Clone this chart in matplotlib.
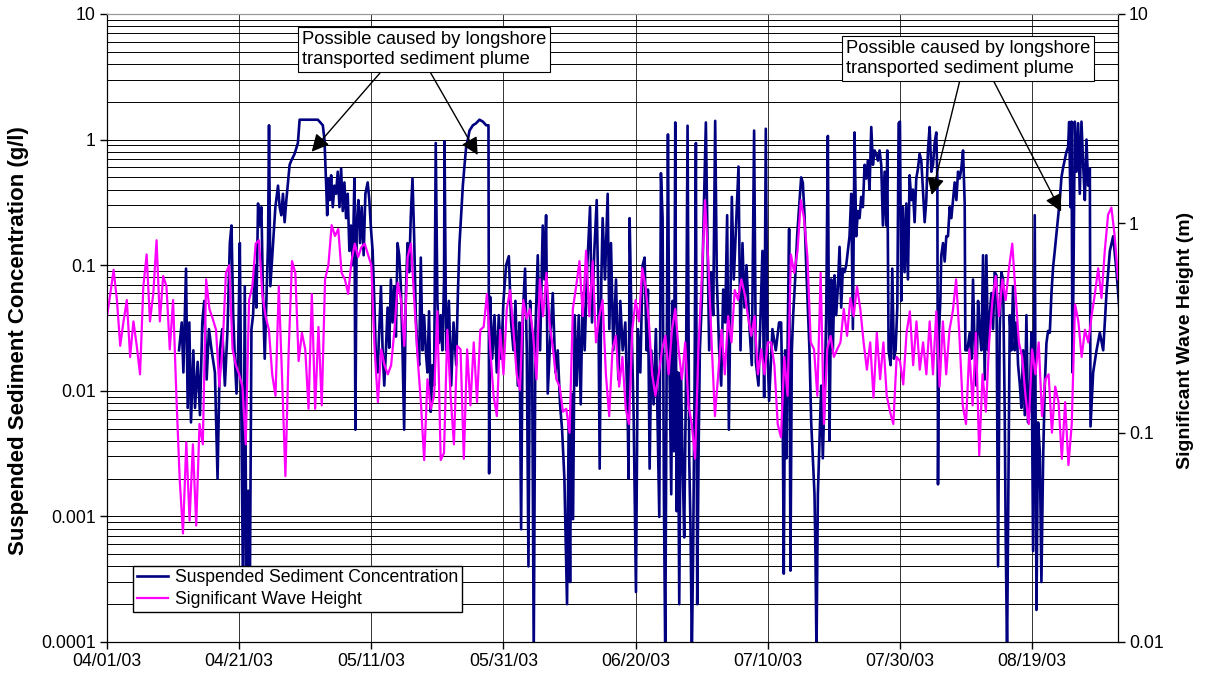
import matplotlib
matplotlib.use("Agg")
import matplotlib.pyplot as plt
import matplotlib.dates as mdates
from matplotlib.ticker import NullFormatter
import numpy as np
import pandas as pd

plt.rcParams["font.family"] = ["Liberation Sans", "DejaVu Sans"]

start = pd.Timestamp("2003-04-01")
end = pd.Timestamp("2003-09-01")

# significant wave height (m), one reading every 12 h from 04/01/03
wave_m = [
    0.36, 0.46, 0.6, 0.43, 0.26, 0.34, 0.43, 0.23, 0.34, 0.26,
    0.19, 0.5, 0.71, 0.34, 0.46, 0.83, 0.34, 0.56, 0.5, 0.25,
    0.43, 0.15, 0.06, 0.033, 0.09, 0.038, 0.088, 0.036, 0.11, 0.088,
    0.54, 0.39, 0.35, 0.31, 0.166, 0.26, 0.58, 0.63, 0.25, 0.21,
    0.19, 0.166, 0.088, 0.43, 0.5, 0.8, 0.83, 0.46, 0.36, 0.31,
    0.19, 0.15, 0.5, 0.18, 0.062, 0.25, 0.66, 0.58, 0.22, 0.3,
    0.25, 0.13, 0.46, 0.13, 0.32, 0.135, 0.54, 0.63, 0.98, 0.87,
    0.94, 0.58, 0.54, 0.46, 0.66, 0.8, 0.69, 0.77, 0.8, 0.71,
    0.63, 0.25, 0.14, 0.25, 0.21, 0.19, 0.21, 0.31, 0.52, 0.43,
    0.26, 0.69, 0.8, 0.43, 0.23, 0.14, 0.074, 0.18, 0.13, 0.15,
    0.38, 0.074, 0.08, 0.31, 0.15, 0.088, 0.26, 0.25, 0.075, 0.25,
    0.135, 0.27, 0.14, 0.31, 0.32, 0.46, 0.25, 0.15, 0.12, 0.31,
    0.19, 0.39, 0.48, 0.31, 0.19, 0.16, 0.43, 0.35, 0.39, 0.29,
    0.18, 0.54, 0.36, 0.58, 0.33, 0.25, 0.18, 0.166, 0.126, 0.13,
    0.10, 0.39, 0.50, 0.66, 0.36, 0.74, 0.36, 0.66, 0.27, 0.36,
    0.43, 0.19, 0.12, 0.25, 0.29, 0.166, 0.23, 0.13, 0.11, 0.31,
    0.43, 0.34, 0.61, 0.5, 0.34, 0.19, 0.15, 0.19, 0.25, 0.29,
    0.19, 0.31, 0.39, 0.25, 0.18, 0.27, 0.135, 0.11, 0.075, 0.25,
    0.54, 1.29, 0.66, 0.27, 0.12, 0.19, 0.31, 0.19, 0.36, 0.27,
    0.48, 0.43, 0.54, 0.46, 0.36, 0.29, 0.36, 0.19, 0.25, 0.19,
    0.27, 0.27, 0.21, 0.11, 0.095, 0.23, 0.15, 0.71, 0.58, 0.74,
    1.29, 1.05, 0.69, 0.27, 0.25, 0.15, 0.58, 0.11, 0.25, 0.29,
    0.23, 0.25, 0.27, 0.39, 0.29, 0.44, 0.36, 0.5, 0.39, 0.27,
    0.2, 0.27, 0.147, 0.3, 0.18, 0.27, 0.15, 0.126, 0.11, 0.23,
    0.22, 0.17, 0.3, 0.38, 0.21, 0.34, 0.2, 0.27, 0.19, 0.34,
    0.19, 0.38, 0.166, 0.34, 0.19, 0.31, 0.38, 0.54, 0.29, 0.135,
    0.11, 0.25, 0.135, 0.3, 0.078, 0.19, 0.126, 0.27, 0.43, 0.56,
    0.36, 0.54, 0.43, 0.61, 0.8, 0.46, 0.27, 0.23, 0.15, 0.11,
    0.25, 0.19, 0.27, 0.12, 0.18, 0.19, 0.10, 0.166, 0.14, 0.075,
    0.14, 0.07, 0.11, 0.41, 0.34, 0.23, 0.31, 0.27, 0.36, 0.46,
    0.61, 0.44, 0.74, 1.1, 1.19, 0.87, 0.54,
]

# suspended sediment concentration: days since 04/01/03 and g/l
ssc_day = [
    10.9, 11.31, 11.56, 11.96, 12.21, 12.46, 12.71, 13.07, 13.32, 13.72,
    14.07, 14.42, 14.72, 15.08, 15.43, 15.83, 16.33, 16.73, 17.09, 17.44,
    17.84, 18.24, 18.59, 18.84, 19.10, 19.35, 19.60, 19.85, 20.10, 20.35,
    20.60, 20.85, 21.11, 21.36, 21.61, 21.86, 22.11, 22.36, 22.61, 22.86,
    23.12, 23.37, 23.62, 23.87, 24.12, 24.37, 24.52, 24.72, 25.13, 25.48,
    25.88, 26.13, 26.38, 26.63, 26.88, 27.14, 27.39, 27.64, 27.89, 28.39,
    28.89, 29.15, 29.90, 30.90, 31.91, 32.66, 32.91, 33.17, 33.32, 33.52,
    33.72, 33.92, 34.17, 34.42, 34.67, 34.92, 35.18, 35.43, 35.68, 35.93,
    36.18, 36.43, 36.68, 36.93, 37.19, 37.44, 37.59, 37.79, 38.04, 38.29,
    38.54, 38.84, 39.10, 39.45, 39.70, 39.95, 40.20, 40.45, 40.70, 40.95,
    41.21, 41.46, 41.71, 41.96, 42.21, 42.46, 42.71, 42.96, 43.22, 43.47,
    43.72, 43.97, 44.22, 44.47, 44.72, 44.97, 45.23, 45.48, 45.73, 45.98,
    46.23, 46.48, 46.73, 46.98, 47.24, 47.49, 47.74, 47.99, 48.24, 48.49,
    48.74, 48.99, 49.25, 49.50, 49.75, 50.00, 50.25, 50.50, 50.75, 51.01,
    51.08, 51.33, 51.74, 52.09, 52.44, 52.85, 53.10, 53.35, 53.60, 53.85,
    54.11, 54.36, 54.61, 54.86, 55.37, 55.87, 56.37, 56.88, 57.38, 57.73,
    57.83, 57.98, 58.29, 58.64, 58.99, 59.29, 59.65, 60.00, 60.40, 60.81,
    61.16, 61.51, 61.81, 62.17, 62.42, 62.67, 62.92, 63.27, 63.53, 63.78,
    64.03, 64.33, 64.58, 64.84, 65.19, 65.54, 65.94, 66.20, 66.45, 66.70,
    67.05, 67.46, 67.86, 68.21, 68.56, 68.87, 69.22, 69.62, 69.87, 70.08,
    70.28, 70.53, 70.78, 71.08, 71.39, 71.69, 71.99, 72.29, 72.64, 73.10,
    73.40, 73.75, 74.11, 74.36, 74.56, 74.81, 75.01, 75.36, 75.77, 76.02,
    76.27, 76.62, 77.03, 77.38, 77.68, 78.04, 78.44, 78.79, 78.94, 79.09,
    79.40, 79.70, 80.05, 80.35, 80.71, 81.06, 81.36, 81.66, 81.86, 82.12,
    82.37, 82.72, 83.07, 83.32, 83.58, 83.83, 84.08, 84.28, 84.48, 84.69,
    84.89, 85.09, 85.39, 85.59, 85.79, 86.00, 86.20, 86.40, 86.60, 86.85,
    87.10, 87.35, 87.61, 87.86, 88.11, 88.31, 88.51, 88.71, 88.92, 89.12,
    89.32, 89.52, 89.72, 90.02, 90.33, 90.63, 90.88, 91.13, 91.44, 91.74,
    92.04, 92.29, 92.64, 92.95, 93.25, 93.55, 93.85, 94.11, 94.36, 94.56,
    94.86, 95.26, 95.57, 95.87, 96.17, 96.47, 96.78, 97.18, 97.58, 97.93,
    98.19, 98.59, 98.94, 99.19, 99.45, 99.70, 99.95, 100.20, 100.70, 101.21,
    101.71,
    102.02, 102.27, 102.42, 102.63, 102.83, 103.03, 103.23, 103.43, 103.64, 103.84,
    104.14, 104.44, 104.75, 105.05, 105.30, 105.56, 105.81, 106.06, 106.31, 106.57,
    106.82, 107.07, 107.22, 107.37, 107.58, 107.83, 108.08, 108.33, 108.59, 108.84,
    109.09, 109.34, 109.60, 109.85, 110.10, 110.35, 110.61, 110.86, 111.11, 111.36,
    111.62, 111.87, 112.12, 112.37, 112.63, 112.88, 113.13, 113.38, 113.64, 113.89,
    114.14, 114.39, 114.65, 114.90, 115.15, 115.40, 115.66, 115.91, 116.16, 116.41,
    116.67, 116.92, 117.17, 117.42, 117.68, 117.93, 118.08, 118.28, 118.59, 118.84,
    119.09, 119.34, 119.60, 119.80, 120.00, 120.20, 120.45, 120.71, 120.96, 121.21,
    121.46, 121.72, 121.97, 122.22, 122.47, 122.73, 122.98, 123.23, 123.48, 123.74,
    123.99, 124.24, 124.49, 124.75, 125.00, 125.25, 125.50, 125.66, 125.76, 125.91,
    126.11, 126.26, 126.52, 126.77, 127.02, 127.27, 127.53, 127.78, 128.03, 128.28,
    128.54, 128.79, 129.04, 129.29, 129.55, 129.80, 129.90, 130.20, 130.56, 130.81,
    131.06, 131.31, 131.57, 131.82, 132.07, 132.32, 132.58, 132.83, 133.08, 133.33,
    133.59, 133.84, 134.09, 134.34, 134.60, 134.85, 135.10, 135.35, 135.61, 135.86,
    136.01, 136.21, 136.36, 136.62, 136.87, 137.12, 137.37, 137.63, 137.88, 138.13,
    138.38, 138.64, 138.89, 139.14, 139.39, 139.65, 139.90, 140.15, 140.40, 140.66,
    140.91, 141.16, 141.41, 141.67, 141.92, 142.17, 142.42, 142.68, 142.93, 143.18,
    143.43, 143.69, 143.94, 144.19, 144.44, 144.70, 144.95, 145.20, 145.45, 145.61,
    145.81, 145.96, 146.11, 146.26, 146.46, 146.72, 146.97, 147.22, 147.47, 147.73,
    147.98, 148.23, 148.48, 148.74, 148.84, 149.24, 149.75, 150.25, 150.76, 151.26,
    151.77, 152.27, 152.78, 153.28,
]
ssc_gl = [
    0.021, 0.035, 0.014, 0.094, 0.0073, 0.035, 0.0056, 0.021, 0.0073, 0.017,
    0.0064, 0.035, 0.052, 0.0123, 0.031, 0.021, 0.014, 0.002, 0.021, 0.031,
    0.011, 0.031, 0.15, 0.207, 0.04, 0.018, 0.0095, 0.021, 0.15, 0.0056,
    0.0002, 0.068, 0.0002, 0.0016, 0.0002, 0.031, 0.04, 0.1, 0.046, 0.31,
    0.207, 0.29, 0.052, 0.018, 0.052, 0.15, 1.3, 0.068, 0.15, 0.29,
    0.43, 0.29, 0.25, 0.37, 0.22, 0.33, 0.456, 0.63, 0.68, 0.77,
    0.94, 1.44, 1.44, 1.44, 1.44, 1.3, 1.0, 0.43, 0.25, 0.49,
    0.33, 0.52, 0.29, 0.43, 0.37, 0.555, 0.29, 0.59, 0.27, 0.456,
    0.237, 0.37, 0.13, 0.207, 0.1, 0.49, 0.0049, 0.207, 0.33, 0.15,
    0.29, 0.12, 0.37, 0.456, 0.33, 0.194, 0.13, 0.052, 0.018, 0.014,
    0.031, 0.068, 0.021, 0.011, 0.021, 0.046, 0.022, 0.077, 0.035, 0.068,
    0.027, 0.15, 0.12, 0.068, 0.021, 0.0049, 0.06, 0.15, 0.088, 0.25,
    0.49, 0.17, 0.04, 0.021, 0.016, 0.115, 0.021, 0.04, 0.021, 0.014,
    0.043, 0.0068, 0.016, 0.011, 0.94, 0.052, 0.024, 0.04, 0.021, 0.077,
    0.97, 0.021, 0.052, 0.011, 0.035, 0.016, 0.06, 0.15, 0.25, 0.43,
    0.63, 0.88, 1.0, 1.18, 1.3, 1.35, 1.44, 1.39, 1.3, 1.3,
    0.0022, 0.056, 0.018, 0.04, 0.014, 0.04, 0.018, 0.052, 0.1, 0.118,
    0.035, 0.021, 0.052, 0.011, 0.035, 0.00079, 0.04, 0.094, 0.021, 0.0004,
    0.052, 0.021, 0.00008, 0.031, 0.12, 0.021, 0.207, 0.077, 0.25, 0.0095,
    0.024, 0.06, 0.014, 0.021, 0.0078, 0.0049, 0.002, 0.0002, 0.0056, 0.0003,
    0.0095, 0.00095, 0.04, 0.011, 0.04, 0.0078, 0.06, 0.021, 0.088, 0.29,
    0.035, 0.13, 0.33, 0.052, 0.0024, 0.077, 0.237, 0.077, 0.37, 0.031,
    0.15, 0.021, 0.077, 0.0123, 0.052, 0.021, 0.035, 0.0064, 0.002, 0.237,
    0.031, 0.0064, 0.00025, 0.031, 0.014, 0.1, 0.115, 0.021, 0.064, 0.0024,
    0.021, 0.0078, 0.031, 0.0056, 0.00099, 0.54, 0.237, 0.0015, 0.00008, 0.014,
    1.1, 0.021, 0.0015, 0.052, 0.0033, 1.37, 0.0011, 0.014, 0.0002, 0.014,
    0.0029, 0.00068, 0.011, 1.29, 0.0029, 0.00078, 0.00008, 0.00056, 0.011, 0.94,
    0.0002, 0.0029, 0.021, 0.052, 0.29, 1.37, 0.15, 0.021, 0.088, 0.04,
    1.41, 0.077, 0.021, 0.011, 0.064, 0.035, 0.25, 0.0049, 0.06, 0.35,
    0.077, 0.25, 0.61, 0.021, 0.15, 0.046, 0.1, 0.035, 0.016, 1.18,
    0.017, 0.011, 0.046, 0.13, 0.0089, 1.22, 0.021, 0.0083, 0.031, 0.021,
    0.035,
    0.035, 0.0056, 0.00035, 0.021, 0.0029, 0.031, 0.194, 0.00037, 0.021, 0.04,
    0.077, 0.17, 0.29, 0.5, 0.456, 0.25, 0.1, 0.046, 0.021, 0.0056,
    0.0029, 0.0015, 0.00048, 0.00008, 0.0015, 0.004, 0.011, 0.0029, 0.0095, 0.04,
    1.07, 0.004, 0.077, 0.021, 0.083, 0.04, 0.068, 0.14, 0.046, 0.094,
    0.088, 0.1, 0.13, 0.17, 0.37, 0.031, 1.14, 0.17, 0.27, 0.237,
    0.35, 0.29, 0.63, 0.49, 0.68, 0.4, 1.26, 0.63, 0.82, 0.77,
    0.68, 0.82, 0.63, 0.207, 0.555, 0.207, 0.82, 0.021, 0.016, 0.094,
    0.018, 0.021, 0.046, 1.35, 1.39, 0.052, 0.29, 0.088, 0.31, 0.077,
    0.52, 0.33, 0.4, 0.22, 0.49, 0.59, 0.77, 0.68, 0.4, 0.22,
    0.33, 0.82, 1.26, 0.555, 0.63, 0.94, 1.14, 0.49, 0.0018, 0.029,
    0.052, 0.12, 0.15, 0.107, 0.17, 0.17, 0.29, 0.237, 0.33, 0.456,
    0.33, 0.555, 0.49, 0.59, 0.82, 0.31, 0.021, 0.021, 0.029, 0.018,
    0.077, 0.021, 0.011, 0.052, 0.031, 0.021, 0.12, 0.0123, 0.12, 0.021,
    0.04, 0.06, 0.031, 0.088, 0.083, 0.0004, 0.031, 0.088, 0.077, 0.0064,
    0.00064, 0.00008, 0.00078, 0.04, 0.021, 0.068, 0.021, 0.035, 0.016, 0.0115,
    0.0073, 0.021, 0.0064, 0.04, 0.0056, 0.0083, 0.029, 0.00053, 0.25, 0.00018,
    0.0056, 0.0033, 0.0003, 0.0029, 0.011, 0.024, 0.03, 0.029, 0.06, 0.097,
    0.13, 0.18, 0.25, 0.33, 0.5, 0.6, 0.69, 0.8, 0.87, 1.38,
    0.29, 1.39, 0.014, 0.077, 1.39, 0.555, 1.35, 0.37, 1.39, 0.63,
    0.33, 1.0, 0.43, 0.59, 0.0052, 0.014, 0.021, 0.029, 0.021, 0.06,
    0.13, 0.17, 0.088, 0.04,
]

left_ticks = [0.0001, 0.001, 0.01, 0.1, 1, 10]
left_labels = ["0.0001", "0.001", "0.01", "0.1", "1", "10"]
right_ticks = [0.01, 0.1, 1, 10]
right_labels = ["0.01", "0.1", "1", "10"]
date_ticks = pd.date_range("2003-04-01", periods=8, freq="20D")

note = "Possible caused by longshore\ntransported sediment plume"
# arrow tips (day, g/l)
plume_a = [(30.97, 0.80), (56.1, 0.754)]
plume_b = [(124.8, 0.362), (144.4, 0.267)]

wave_t = start + pd.to_timedelta(np.arange(len(wave_m)) * 12, unit="h")
ssc_t = start + pd.to_timedelta(np.array(ssc_day), unit="D")

fig = plt.figure(figsize=(12.07, 6.77), dpi=100)
ax = fig.add_axes([107 / 1207, 35 / 677, 1011 / 1207, 628 / 677])
ax.set_yscale("log")
ax.set_ylim(1e-4, 10)
ax.set_xlim(start, end)
ax.grid(True, which="both", axis="y", color="black", lw=0.7)
ax.grid(True, which="major", axis="x", color="#333333", lw=0.7)

l1, = ax.plot(ssc_t, ssc_gl, color="#000080", lw=1.9)

ax.set_yticks(left_ticks)
ax.set_yticklabels(left_labels)
ax.yaxis.set_minor_formatter(NullFormatter())
ax.tick_params(axis="y", which="minor", length=0)
ax.tick_params(axis="y", which="major", length=5, width=1, labelsize=12.7, pad=3)
ax.set_xticks(date_ticks)
ax.xaxis.set_major_formatter(mdates.DateFormatter("%m/%d/%y"))
ax.tick_params(axis="x", length=5, width=1, labelsize=12.7, pad=3)

ax.set_ylabel("Suspended Sediment Concentration (g/l)", fontsize=16, fontweight="bold")
ax.yaxis.set_label_coords(-0.088, 0.48)
ax.yaxis.label.set_va("center")

ax2 = ax.twinx()
l2, = ax2.plot(wave_t, wave_m, color="#FF00FF", lw=1.6)
ax2.set_yscale("log")
ax2.set_ylim(0.01, 10)
ax2.set_yticks(right_ticks)
ax2.set_yticklabels(right_labels)
ax2.yaxis.set_minor_formatter(NullFormatter())
ax2.tick_params(axis="y", which="minor", length=0)
ax2.tick_params(axis="y", which="major", length=5, width=1, labelsize=12.7, pad=3)
ax2.set_ylabel("Significant Wave Height (m)", fontsize=14, fontweight="bold")
ax2.yaxis.set_label_coords(1.067, 0.48)
ax2.yaxis.label.set_va("center")

for a in (ax, ax2):
    a.spines["top"].set_color("#999999")

ax2.legend([l1, l2], ["Suspended Sediment Concentration", "Significant Wave Height"],
           loc="lower left", bbox_to_anchor=(0.0257, 0.048), borderaxespad=0,
           fancybox=False, edgecolor="black", framealpha=1, fontsize=12.7,
           handlelength=1.8, handletextpad=0.4, borderpad=0.2, labelspacing=0.3)

arrow = dict(arrowstyle="-|>,head_length=0.7,head_width=0.35", color="black",
             lw=1, mutation_scale=15, shrinkA=0, shrinkB=0)
starts_a = [(0.270, 0.906), (0.3195, 0.908)]
starts_b = [(0.8437, 0.895), (0.8764, 0.895)]
for (d, v), s in zip(plume_a + plume_b, starts_a + starts_b):
    tip = (mdates.date2num(start + pd.Timedelta(days=d)), v)
    ax2.annotate("", xy=tip, xycoords=ax.transData, xytext=s,
                 textcoords="axes fraction", arrowprops=arrow)

box = dict(boxstyle="square,pad=0.22", fc="white", ec="black", lw=0.8)
ax2.text(0.1929, 0.9729, note, transform=ax2.transAxes, ha="left", va="top",
         fontsize=13.2, linespacing=1.2, bbox=box, zorder=6)
ax2.text(0.7310, 0.9586, note, transform=ax2.transAxes, ha="left", va="top",
         fontsize=13.2, linespacing=1.2, bbox=box, zorder=6)

fig.savefig("out.png", dpi=100)
